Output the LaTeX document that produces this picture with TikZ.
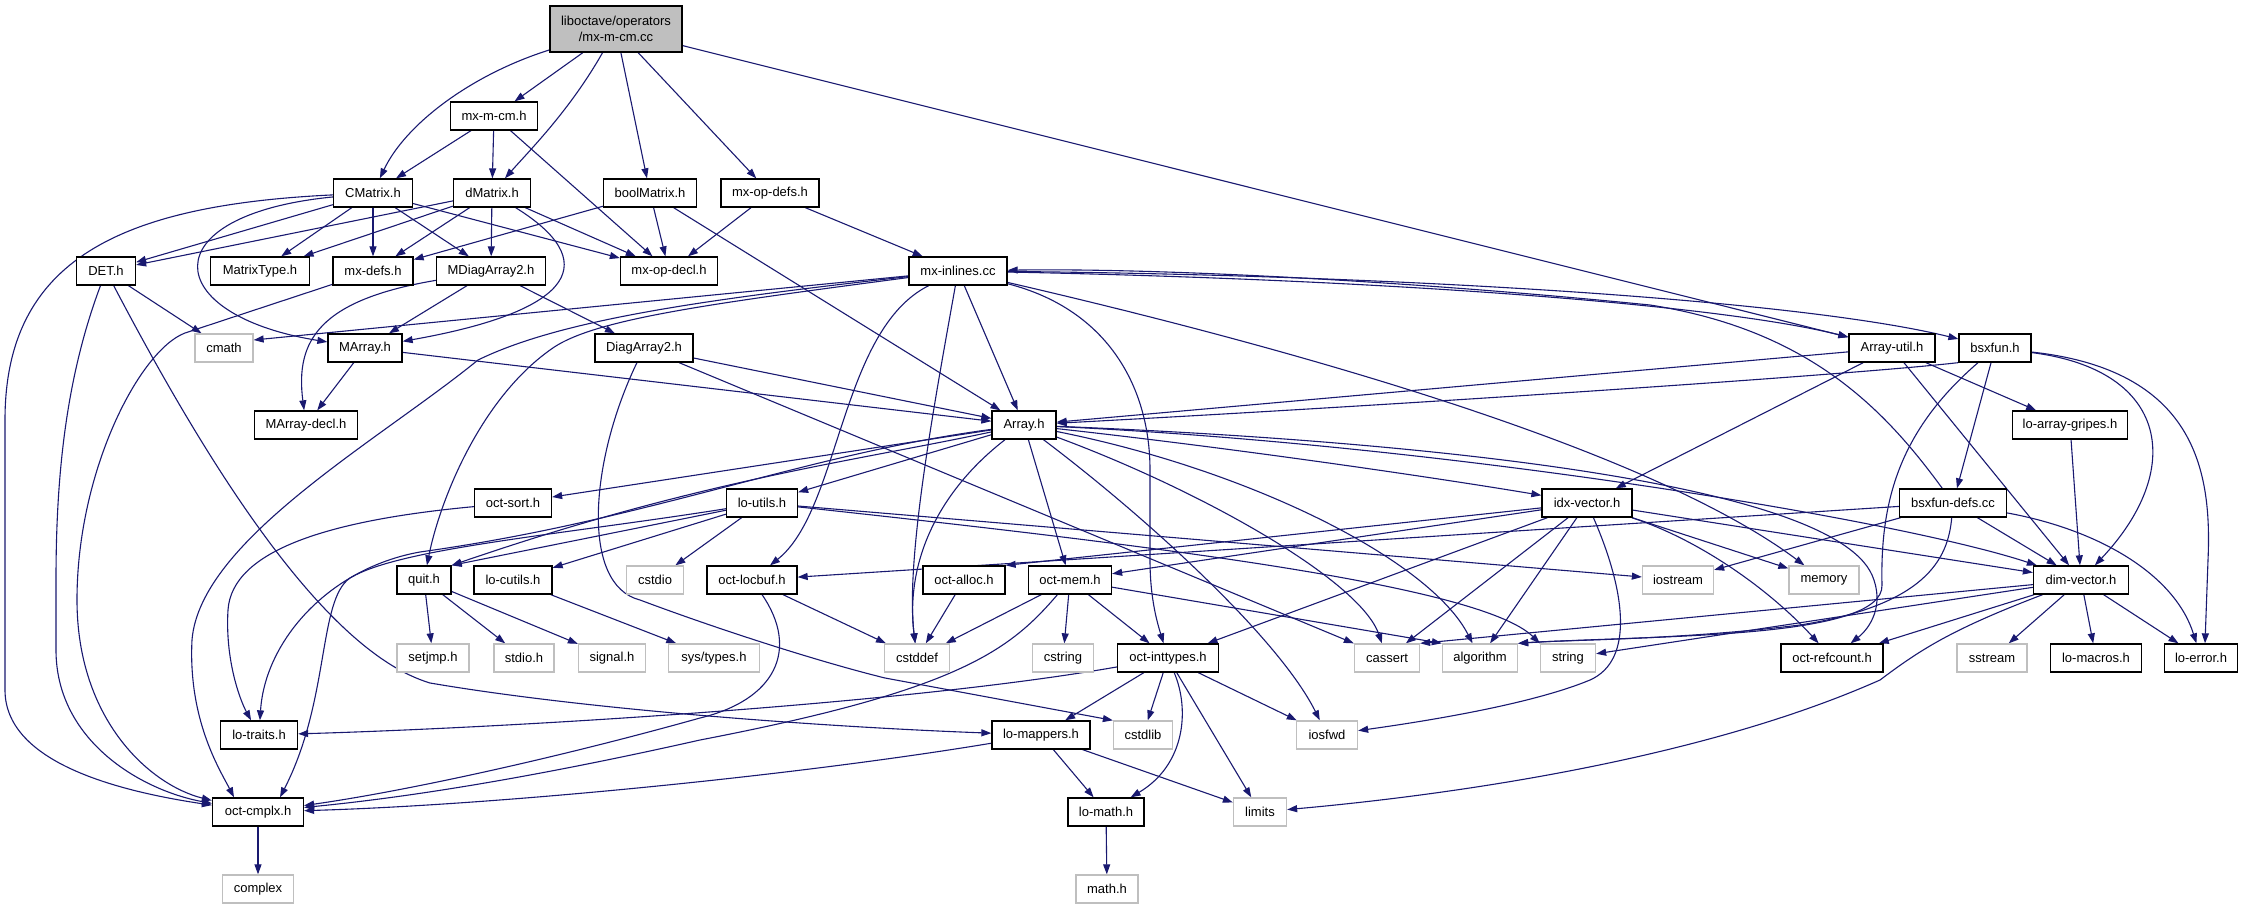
\documentclass[tikz,border=0pt]{standalone}
\usepackage{fontspec}
\setmainfont{Liberation Sans}
\usetikzlibrary{arrows.meta}
\definecolor{eblue}{RGB}{25,25,112}
\definecolor{lgray}{RGB}{191,191,191}
\pgfdeclarelayer{bg}
\pgfsetlayers{bg,main}
\begin{document}
\begin{tikzpicture}[x=1pt,y=-1pt,
  nd/.style={draw=black,line width=1.3pt,fill=white,minimum height=28pt,inner sep=0pt,font={\fontsize{13}{15}\selectfont},text=black},
  ng/.style={nd,draw=lgray},
  rootbox/.style={nd,fill=lgray,minimum height=46pt,align=center},
  e/.style={draw=eblue,line width=1.1pt,-{Triangle[length=10pt,width=7pt]}}]
\useasboundingbox (0,0) rectangle (2243,909);
% nodes
\node[rootbox,minimum width=132pt] (root) at (616,29) {liboctave/operators\\[1pt]/mx-m-cm.cc};
\node[nd,minimum width=87pt] (mxmcmh) at (494,116) {mx-m-cm.h};
\node[nd,minimum width=79pt] (CMatrix) at (373,193) {CMatrix.h};
\node[nd,minimum width=77pt] (dMatrix) at (492,193) {dMatrix.h};
\node[nd,minimum width=93pt] (boolMatrix) at (650,193) {boolMatrix.h};
\node[nd,minimum width=98pt] (mxopdefs) at (770,193) {mx-op-defs.h};
\node[nd,minimum width=59pt] (DET) at (106,271) {DET.h};
\node[nd,minimum width=99pt] (MatrixType) at (260,271) {MatrixType.h};
\node[nd,minimum width=80pt] (mxdefs) at (373,271) {mx-defs.h};
\node[nd,minimum width=109pt] (MDiagArray2) at (491,271) {MDiagArray2.h};
\node[nd,minimum width=97pt] (mxopdecl) at (669,271) {mx-op-decl.h};
\node[nd,minimum width=98pt] (mxinlines) at (958,271) {mx-inlines.cc};
\node[ng,minimum width=58pt] (cmath) at (224,348) {cmath};
\node[nd,minimum width=74pt] (MArray) at (365,348) {MArray.h};
\node[nd,minimum width=98pt] (DiagArray2) at (644,348) {DiagArray2.h};
\node[nd,minimum width=86pt] (ArrayUtil) at (1892,348) {Array-util.h};
\node[nd,minimum width=72pt] (bsxfun) at (1995,348) {bsxfun.h};
\node[nd,minimum width=103pt] (MArraydecl) at (306,425) {MArray-decl.h};
\node[nd,minimum width=64pt] (Array) at (1024,425) {Array.h};
\node[nd,minimum width=115pt] (loarraygripes) at (2070,425) {lo-array-gripes.h};
\node[nd,minimum width=77pt] (octsort) at (513,503) {oct-sort.h};
\node[nd,minimum width=71pt] (loutils) at (762,503) {lo-utils.h};
\node[nd,minimum width=90pt] (idxvector) at (1587,503) {idx-vector.h};
\node[nd,minimum width=107pt] (bsxfundefs) at (1953,503) {bsxfun-defs.cc};
\node[nd,minimum width=54pt] (quit) at (424,580) {quit.h};
\node[nd,minimum width=78pt] (locutils) at (513,580) {lo-cutils.h};
\node[ng,minimum width=57pt] (cstdio) at (655,580) {cstdio};
\node[nd,minimum width=90pt] (octlocbuf) at (752,580) {oct-locbuf.h};
\node[nd,minimum width=82pt] (octalloc) at (964,580) {oct-alloc.h};
\node[nd,minimum width=83pt] (octmem) at (1070,580) {oct-mem.h};
\node[ng,minimum width=71pt] (iostream) at (1678,580) {iostream};
\node[ng,minimum width=70pt] (memory) at (1824,580) {memory};
\node[nd,minimum width=95pt] (dimvector) at (2081,580) {dim-vector.h};
\node[ng,minimum width=72pt] (setjmp) at (433,658) {setjmp.h};
\node[ng,minimum width=60pt] (stdio) at (524,658) {stdio.h};
\node[ng,minimum width=67pt] (signal) at (612,658) {signal.h};
\node[ng,minimum width=91pt] (systypes) at (714,658) {sys/types.h};
\node[ng,minimum width=65pt] (cstddef) at (917,658) {cstddef};
\node[ng,minimum width=61pt] (cstring) at (1063,658) {cstring};
\node[nd,minimum width=101pt] (octinttypes) at (1168,658) {oct-inttypes.h};
\node[ng,minimum width=65pt] (cassert) at (1387,658) {cassert};
\node[ng,minimum width=75pt] (algorithm) at (1480,658) {algorithm};
\node[ng,minimum width=55pt] (string) at (1568,658) {string};
\node[nd,minimum width=102pt] (octrefcount) at (1832,658) {oct-refcount.h};
\node[ng,minimum width=70pt] (sstream) at (1992,658) {sstream};
\node[nd,minimum width=91pt] (lomacros) at (2096,658) {lo-macros.h};
\node[nd,minimum width=73pt] (loerror) at (2201,658) {lo-error.h};
\node[nd,minimum width=77pt] (lotraits) at (259,735) {lo-traits.h};
\node[nd,minimum width=98pt] (lomappers) at (1041,735) {lo-mappers.h};
\node[ng,minimum width=59pt] (cstdlib) at (1143,735) {cstdlib};
\node[ng,minimum width=61pt] (iosfwd) at (1327,735) {iosfwd};
\node[nd,minimum width=91pt] (octcmplx) at (258,812) {oct-cmplx.h};
\node[nd,minimum width=76pt] (lomath) at (1106,812) {lo-math.h};
\node[ng,minimum width=53pt] (limits) at (1260,812) {limits};
\node[ng,minimum width=71pt] (complex) at (258,889) {complex};
\node[ng,minimum width=62pt] (mathh) at (1107,889) {math.h};
% edges
\begin{pgfonlayer}{bg}
\draw[e] (root) .. controls (470,75) and (405,125) .. (CMatrix);
\draw[e] (root) -- (mxmcmh);
\draw[e] (root) .. controls (570,110) and (530,150) .. (dMatrix);
\draw[e] (root) -- (boolMatrix);
\draw[e] (root) -- (mxopdefs);
\draw[e] (root) -- (ArrayUtil);
\draw[e] (mxmcmh) -- (CMatrix);
\draw[e] (mxmcmh) -- (dMatrix);
\draw[e] (mxmcmh) -- (mxopdecl);
\draw[e] (CMatrix) .. controls (120,205) and (5,260) .. (5,420) -- (5,690) .. controls (5,760) and (110,790) .. (octcmplx);
\draw[e] (CMatrix) -- (DET);
\draw[e] (CMatrix) .. controls (150,215) and (160,315) .. (MArray);
\draw[e] (CMatrix) -- (MatrixType);
\draw[e] (CMatrix) -- (mxdefs);
\draw[e] (CMatrix) -- (MDiagArray2);
\draw[e] (CMatrix) -- (mxopdecl);
\draw[e] (dMatrix) -- (DET);
\draw[e] (dMatrix) -- (MatrixType);
\draw[e] (dMatrix) -- (mxdefs);
\draw[e] (dMatrix) -- (MDiagArray2);
\draw[e] (dMatrix) -- (mxopdecl);
\draw[e] (dMatrix) .. controls (600,260) and (580,310) .. (MArray);
\draw[e] (boolMatrix) -- (mxdefs);
\draw[e] (boolMatrix) -- (mxopdecl);
\draw[e] (boolMatrix) -- (Array);
\draw[e] (mxopdefs) -- (mxopdecl);
\draw[e] (mxopdefs) -- (mxinlines);
\draw[e] (DET) -- (cmath);
\draw[e] (DET) .. controls (65,380) and (56,480) .. (56,580) -- (56,650) .. controls (56,740) and (140,790) .. (octcmplx);
\draw[e] (DET) .. controls (200,450) and (320,650) .. (430,683) .. controls (600,712) and (850,728) .. (lomappers);
\draw[e] (mxdefs) -- (185,333) .. controls (140,350) and (77,470) .. (77,600) .. controls (77,720) and (150,785) .. (octcmplx);
\draw[e] (mxinlines) -- ([yshift=8pt]cmath.east);
\draw[e] (mxinlines) .. controls (700,300) and (560,320) .. (478,360) .. controls (380,440) and (200,540) .. (192,640) .. controls (188,720) and (220,770) .. ([xshift=-24pt]octcmplx.north);
\draw[e] (mxinlines) .. controls (700,305) and (590,320) .. (550,350) .. controls (480,400) and (440,500) .. (quit);
\draw[e] (mxinlines) .. controls (935,400) and (905,560) .. (cstddef);
\draw[e] (mxinlines) -- (Array);
\draw[e] (mxinlines) .. controls (840,330) and (840,510) .. ([xshift=18pt]octlocbuf.north);
\draw[e] (mxinlines) .. controls (1110,310) and (1150,390) .. (1150,470) -- (1150,560) .. controls (1150,600) and (1158,625) .. (octinttypes);
\draw[e] (mxinlines) .. controls (1300,350) and (1650,450) .. (memory);
\draw[e] (mxinlines) .. controls (1400,280) and (1720,305) .. (ArrayUtil);
\draw[e] (mxinlines) .. controls (1400,275) and (1800,300) .. (bsxfun);
\draw[e] (MDiagArray2) -- (DiagArray2);
\draw[e] (MDiagArray2) -- (MArray);
\draw[e] (MDiagArray2) .. controls (320,300) and (295,340) .. (MArraydecl);
\draw[e] (MArray) -- (MArraydecl);
\draw[e] (MArray) -- (Array);
\draw[e] (DiagArray2) -- (Array);
\draw[e] (DiagArray2) -- (cassert.north west);
\draw[e] (DiagArray2) .. controls (590,460) and (580,585) .. (640,600) .. controls (720,630) and (820,662) .. (885,678) -- (cstdlib.north west);
\draw[e] (ArrayUtil) -- (Array);
\draw[e] (ArrayUtil) -- (idxvector);
\draw[e] (ArrayUtil) -- (dimvector);
\draw[e] (ArrayUtil) -- (loarraygripes);
\draw[e] (loarraygripes) -- (dimvector);
\draw[e] (bsxfun.south west) .. controls (1850,375) and (1400,405) .. (Array);
\draw[e] (bsxfun) .. controls (1900,430) and (1880,500) .. (1882,585) .. controls (1884,640) and (1650,635) .. (algorithm.north east);
\draw[e] (bsxfun) -- (bsxfundefs);
\draw[e] (bsxfun) .. controls (2170,370) and (2185,470) .. (dimvector);
\draw[e] (bsxfun) .. controls (2195,370) and (2212,470) .. (2208,560) -- ([xshift=4pt]loerror.north);
\draw[e] (bsxfundefs) .. controls (1885,410) and (1810,330) .. (1650,305) .. controls (1400,280) and (1150,268) .. (mxinlines);
\draw[e] (bsxfundefs) -- (iostream);
\draw[e] (bsxfundefs) -- (octlocbuf);
\draw[e] (bsxfundefs) -- (dimvector);
\draw[e] (bsxfundefs) .. controls (2100,530) and (2175,575) .. (loerror);
\draw[e] (bsxfundefs) .. controls (1948,560) and (1925,605) .. (1800,625) .. controls (1680,640) and (1560,640) .. (algorithm.north east);
\draw[e] (Array) -- (octsort);
\draw[e] (Array) -- (loutils);
\draw[e] (Array) .. controls (850,462) and (700,480) .. (quit.north east);
\draw[e] (Array) .. controls (800,455) and (650,520) .. (420,552) .. controls (330,568) and (265,640) .. (lotraits);
\draw[e] (Array) .. controls (940,490) and (905,560) .. (cstddef);
\draw[e] (Array) -- (octmem);
\draw[e] (Array) .. controls (1200,490) and (1360,580) .. (cassert);
\draw[e] (Array) .. controls (1250,470) and (1430,560) .. (algorithm);
\draw[e] (Array) .. controls (1150,520) and (1280,640) .. (iosfwd);
\draw[e] (Array) .. controls (1250,450) and (1450,480) .. (idxvector);
\draw[e] (Array) .. controls (1450,445) and (1900,520) .. (dimvector);
\draw[e] (Array) .. controls (1400,440) and (1830,480) .. (1872,575) .. controls (1885,605) and (1870,628) .. (octrefcount);
\draw[e] (loutils) -- (quit.north east);
\draw[e] (loutils) -- (locutils);
\draw[e] (loutils) -- (cstdio);
\draw[e] (loutils) .. controls (560,535) and (400,548) .. (350,578) .. controls (318,600) and (330,700) .. ([xshift=22pt]octcmplx.north);
\draw[e] (loutils) -- (iostream);
\draw[e] (loutils) .. controls (1150,545) and (1480,585) .. (string.north west);
\draw[e] (octsort) .. controls (330,520) and (232,550) .. (228,610) .. controls (225,660) and (240,700) .. (lotraits);
\draw[e] (quit) -- (setjmp);
\draw[e] (quit) -- (stdio);
\draw[e] (quit) -- (signal);
\draw[e] (locutils) -- (systypes);
\draw[e] (octlocbuf) -- (cstddef);
\draw[e] (octlocbuf) .. controls (800,650) and (775,700) .. (700,718) .. controls (550,760) and (400,792) .. (octcmplx);
\draw[e] (octalloc) -- (cstddef);
\draw[e] (octmem) -- (cstddef);
\draw[e] (octmem) -- (cstring);
\draw[e] (octmem) -- (octinttypes);
\draw[e] (octmem) -- (algorithm.north west);
\draw[e] (octmem) .. controls (1010,650) and (960,690) .. (700,740) .. controls (500,785) and (380,800) .. (octcmplx);
\draw[e] (idxvector) -- (octalloc.north east);
\draw[e] (idxvector) -- (octmem);
\draw[e] (idxvector) -- (octinttypes);
\draw[e] (idxvector) -- (cassert);
\draw[e] (idxvector) -- (algorithm);
\draw[e] (idxvector) .. controls (1625,590) and (1635,660) .. (1590,680) .. controls (1530,705) and (1420,722) .. (iosfwd);
\draw[e] (idxvector) -- (memory);
\draw[e] (idxvector) -- (dimvector);
\draw[e] (idxvector) .. controls (1700,540) and (1770,590) .. (octrefcount);
\draw[e] (dimvector) -- (cassert.north east);
\draw[e] (dimvector) -- (string);
\draw[e] (dimvector) -- (octrefcount);
\draw[e] (dimvector) -- (sstream);
\draw[e] (dimvector) -- (lomacros);
\draw[e] (dimvector) -- (loerror);
\draw[e] (dimvector) .. controls (1950,630) and (1920,650) .. (1880,680) .. controls (1700,760) and (1450,795) .. (limits);
\draw[e] (octinttypes) .. controls (900,705) and (500,728) .. (lotraits);
\draw[e] (octinttypes) -- (lomappers);
\draw[e] (octinttypes) -- (cstdlib);
\draw[e] (octinttypes) .. controls (1190,710) and (1185,765) .. (lomath);
\draw[e] (octinttypes) -- (limits);
\draw[e] (octinttypes) -- (iosfwd);
\draw[e] (lomappers) -- (lomath);
\draw[e] (lomappers) -- (limits);
\draw[e] (lomappers) .. controls (800,775) and (500,805) .. (octcmplx);
\draw[e] (octcmplx) -- (complex);
\draw[e] (lomath) -- (mathh);
\end{pgfonlayer}
\end{tikzpicture}
\end{document}
